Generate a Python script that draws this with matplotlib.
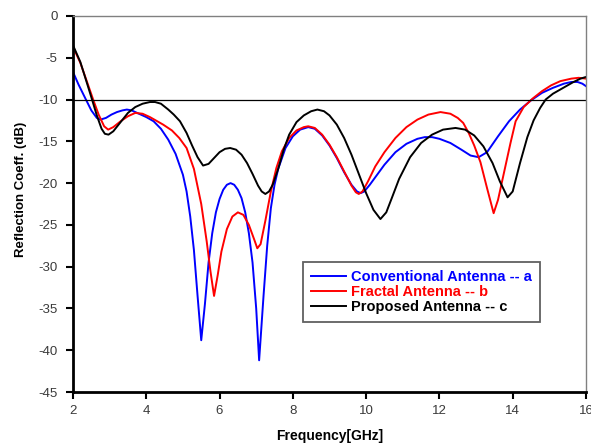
import matplotlib
matplotlib.use('Agg')
import matplotlib.pyplot as plt

# Conventional antenna (a)
freq_a = [2.0, 2.15, 2.33, 2.5, 2.65, 2.75, 2.9, 3.05, 3.2, 3.35, 3.47, 3.6, 3.8, 4.0, 4.2, 4.4,
          4.6, 4.8, 5.0, 5.1, 5.2, 5.3, 5.4, 5.5, 5.6, 5.7, 5.8, 5.9, 6.0, 6.1, 6.2, 6.3,
          6.4, 6.5, 6.6, 6.7, 6.8, 6.9, 7.0, 7.08, 7.2, 7.3, 7.4, 7.5, 7.6, 7.8, 8.0, 8.2,
          8.42, 8.6, 8.8, 9.0, 9.2, 9.4, 9.6, 9.75, 9.85, 9.95, 10.1, 10.3, 10.5, 10.8, 11.1,
          11.4, 11.6, 11.8, 12.0, 12.3, 12.6, 12.85, 13.07, 13.3, 13.6, 13.9, 14.2, 14.5,
          14.8, 15.1, 15.4, 15.6, 15.77, 15.9, 16.0]
s11_a = [-6.7, -8.2, -9.8, -11.3, -12.2, -12.4, -12.2, -11.8, -11.5, -11.3, -11.2, -11.3, -11.7, -12.1, -12.6, -13.5,
         -14.8, -16.5, -19.0, -21.0, -24.0, -28.0, -33.5, -38.8, -34.5, -29.5, -26.0, -23.5, -21.9, -20.8, -20.2, -20.0,
         -20.2, -20.8, -21.8, -23.5, -26.0, -29.5, -35.0, -41.2, -33.5, -27.5, -23.0, -20.2, -18.3, -15.8, -14.4, -13.6,
         -13.3, -13.5, -14.3, -15.5, -17.0, -18.7, -20.2, -21.0, -21.2, -21.0, -20.2, -19.0, -17.8, -16.3, -15.3,
         -14.7, -14.5, -14.5, -14.7, -15.2, -16.0, -16.7, -16.9, -16.3, -14.4, -12.6, -11.2, -10.1,
         -9.2, -8.6, -8.1, -7.9, -7.9, -8.1, -8.4]

# Fractal antenna (b)
freq_b = [2.0, 2.2, 2.4, 2.55, 2.7, 2.85, 2.96, 3.1, 3.3, 3.5, 3.7, 3.9, 4.1, 4.3, 4.46, 4.7,
          4.9, 5.1, 5.3, 5.5, 5.65, 5.75, 5.85, 5.95, 6.05, 6.2, 6.35, 6.5, 6.65, 6.8,
          6.95, 7.03, 7.12, 7.25, 7.4, 7.55, 7.7, 7.9, 8.1, 8.3, 8.42, 8.6, 8.8, 9.0, 9.2, 9.4,
          9.6, 9.72, 9.8, 9.9, 10.05, 10.25, 10.5, 10.8, 11.1, 11.4, 11.7, 12.03, 12.3, 12.5,
          12.65, 12.8, 12.95, 13.12, 13.3, 13.48, 13.6, 13.7, 13.8, 13.94, 14.08, 14.3, 14.54,
          14.8, 15.05, 15.3, 15.6, 15.8, 16.0]
s11_b = [-3.7, -5.6, -8.1, -10.0, -11.8, -13.2, -13.6, -13.3, -12.6, -12.0, -11.6, -11.7, -12.1, -12.6, -13.0, -13.7,
         -14.6, -15.8, -18.3, -22.5, -27.0, -30.5, -33.5, -31.0, -28.2, -25.5, -24.0, -23.5, -23.8, -25.0,
         -26.8, -27.8, -27.3, -24.5, -21.0, -18.2, -16.2, -14.6, -13.7, -13.3, -13.2, -13.4, -14.2, -15.4, -16.9, -18.6,
         -20.3, -21.1, -21.3, -21.0, -19.8, -18.0, -16.3, -14.6, -13.3, -12.4, -11.8, -11.5, -11.7, -12.2,
         -12.8, -14.0, -15.5, -17.5, -20.6, -23.6, -22.0, -20.0, -18.0, -15.2, -12.6, -10.9, -9.9,
         -9.0, -8.3, -7.8, -7.5, -7.4, -7.5]

# Proposed antenna (c)
freq_c = [2.0, 2.2, 2.4, 2.52, 2.65, 2.78, 2.87, 2.97, 3.1, 3.3, 3.5, 3.7, 3.9, 4.1, 4.24, 4.4,
          4.6, 4.75, 4.92, 5.1, 5.25, 5.4, 5.55, 5.7, 5.85, 6.0, 6.15, 6.29, 6.45, 6.6,
          6.75, 6.9, 7.05, 7.15, 7.25, 7.35, 7.45, 7.6, 7.75, 7.9, 8.1, 8.3, 8.5, 8.67, 8.85,
          9.0, 9.2, 9.4, 9.6, 9.8, 10.0, 10.2, 10.39, 10.55, 10.7, 10.9, 11.2, 11.5, 11.8, 12.1,
          12.44, 12.7, 12.95, 13.2, 13.45, 13.65, 13.86, 14.0, 14.2, 14.4, 14.57, 14.75, 14.9,
          15.1, 15.3, 15.5, 15.66, 15.85, 16.0]
s11_c = [-3.5, -5.5, -8.3, -10.0, -11.9, -13.5, -14.1, -14.2, -13.8, -12.7, -11.6, -10.9, -10.5, -10.3, -10.3, -10.5,
         -11.2, -11.8, -12.6, -14.0, -15.5, -16.9, -17.9, -17.7, -17.0, -16.3, -15.9, -15.8, -16.0, -16.6,
         -17.6, -18.9, -20.3, -21.0, -21.3, -21.0, -20.2, -18.3, -16.0, -14.2, -12.7, -11.9, -11.4, -11.2, -11.4,
         -11.9, -13.0, -14.6, -16.6, -18.9, -21.2, -23.2, -24.3, -23.5, -21.8, -19.5, -16.9, -15.2, -14.2, -13.6,
         -13.4, -13.6, -14.3, -15.6, -17.6, -19.8, -21.7, -21.0, -17.6, -14.5, -12.5, -11.0, -10.0,
         -9.3, -8.8, -8.3, -7.9, -7.5, -7.3]

xticks = [2, 4, 6, 8, 10, 12, 14, 16]
yticks = [0, -5, -10, -15, -20, -25, -30, -35, -40, -45]

plt.rcParams['font.family'] = ['Liberation Sans', 'DejaVu Sans']
plt.rcParams['axes.unicode_minus'] = False

fig = plt.figure(figsize=(5.91, 4.43), dpi=100)
ax = fig.add_axes([0.1235, 0.115, 0.868, 0.849])

ax.plot(freq_a, s11_a, color='#0000ff', lw=1.4, label='Conventional Antenna -- a')
ax.plot(freq_b, s11_b, color='#ff0000', lw=1.4, label='Fractal Antenna -- b')
ax.plot(freq_c, s11_c, color='black', lw=1.4, label='Proposed Antenna -- c')
ax.axhline(-10, color='black', lw=0.9)

ax.set_xlim(2, 16)
ax.set_ylim(-45, 0)
ax.set_xticks(xticks)
ax.set_yticks(yticks)
ax.tick_params(direction='out', length=5, width=1.5, labelsize=9.5, colors='black',
               labelcolor='#3a3a3a')
ax.tick_params(axis='x', pad=4)
ax.tick_params(axis='y', pad=6)

for s in ['left', 'bottom']:
    ax.spines[s].set_linewidth(2)
    ax.spines[s].set_color('black')
for s in ['top', 'right']:
    ax.spines[s].set_linewidth(1)
    ax.spines[s].set_color('#808080')

ax.set_xlabel('Frequency[GHz]', fontsize=10, fontweight='bold', labelpad=9)
ax.set_ylabel('Reflection Coeff. (dB)', fontsize=9.5, fontweight='bold')
ax.yaxis.set_label_coords(-0.089, 0.54)

leg = ax.legend(loc='upper left', bbox_to_anchor=(0.448, 0.346), fancybox=False,
                framealpha=1, edgecolor='#606060', fontsize=10.5, handlelength=2.4,
                borderpad=0.55, labelspacing=0.08, handletextpad=0.35, borderaxespad=0)
leg.get_frame().set_linewidth(1.3)
for txt, c in zip(leg.get_texts(), ['#0000ff', '#ff0000', 'black']):
    txt.set_color(c)
    txt.set_fontweight('bold')

fig.savefig('out.png', dpi=100)
